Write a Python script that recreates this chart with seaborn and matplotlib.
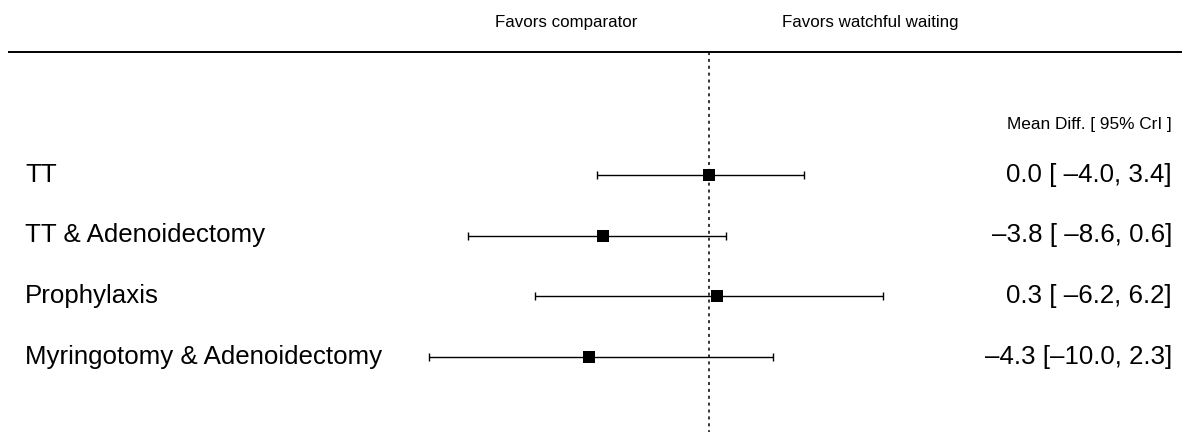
import matplotlib
matplotlib.use("Agg")
import matplotlib.pyplot as plt
import seaborn as sns
import pandas as pd

treatments = ["TT", "TT & Adenoidectomy", "Prophylaxis", "Myringotomy & Adenoidectomy"]
mean_diff = [0.0, -3.8, 0.3, -4.3]
ci_low = [-4.0, -8.6, -6.2, -10.0]
ci_high = [3.4, 0.6, 6.2, 2.3]

sns.set_theme(style="white")
plt.rcParams['font.family'] = ['Liberation Sans', 'DejaVu Sans']
plt.rcParams['text.color'] = 'black'

df = pd.DataFrame({"treatment": treatments, "mean": mean_diff, "lo": ci_low, "hi": ci_high})
df["row"] = range(len(df))

fig = plt.figure(figsize=(11.82, 4.32), dpi=100)
ax = fig.add_axes([0, 0, 1, 1])

# scale: 28 px per unit, zero at x=709
ax.set_xlim(-709 / 28, 473 / 28)
ax.set_ylim(4.236, -2.884)

# reference line
ax.plot([0, 0], [-2.03, 4.3], color="black", lw=1.1, linestyle=(0, (2, 2.5)), zorder=1)
# top rule
ax.plot([(8 - 709) / 28, 473 / 28], [-2.03, -2.03], color="black", lw=1.4, solid_capstyle="butt")

for _, r in df.iterrows():
    ax.errorbar(r["mean"], r["row"], xerr=[[r["mean"] - r["lo"]], [r["hi"] - r["mean"]]],
                fmt="none", ecolor="black", elinewidth=1.0, capsize=3.2, capthick=1.0, zorder=2)

sns.scatterplot(data=df, x="mean", y="row", marker="s", s=80, color="black",
                edgecolor="black", linewidth=0, ax=ax, zorder=3, legend=False)

def fmt(v):
    return v.replace("-", "\u2013")

dy = -0.045
for _, r in df.iterrows():
    ax.text((25 - 709) / 28, r["row"] + dy, r["treatment"], ha="left", va="center_baseline",
            fontsize=18.6, color="black")
    s = f"{r['mean']:.1f} [{r['lo']:5.1f}, {r['hi']:.1f}]"
    ax.text((1172 - 709) / 28, r["row"] + dy, fmt(s), ha="right", va="center_baseline",
            fontsize=18.6, color="black")

ax.text((1172 - 709) / 28, -0.85, "Mean Diff. [ 95% CrI ]", ha="right", va="center_baseline",
        fontsize=12.4, color="black")
ax.text((495 - 709) / 28, -2.54, "Favors comparator", ha="left", va="center_baseline",
        fontsize=12.2, color="black")
ax.text((782 - 709) / 28, -2.54, "Favors watchful waiting", ha="left", va="center_baseline",
        fontsize=12.2, color="black")

ax.set_axis_off()
fig.savefig("out.png", dpi=100, facecolor="white")
